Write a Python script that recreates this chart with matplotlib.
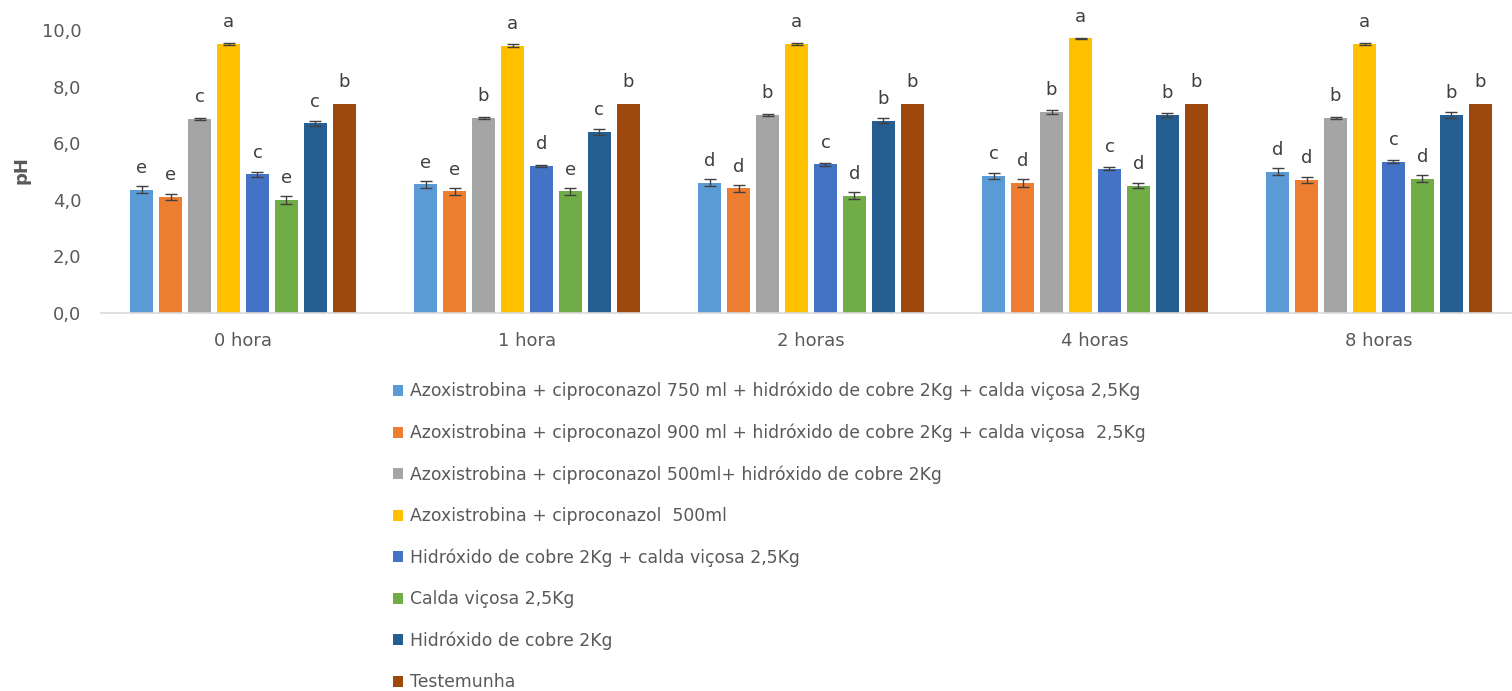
import matplotlib
matplotlib.use('Agg')
import matplotlib.pyplot as plt
import numpy as np

# tempos de avaliação
horarios = ['0 hora', '1 hora', '2 horas', '4 horas', '8 horas']

tratamentos = [
    'Azoxistrobina + ciproconazol 750 ml + hidróxido de cobre 2Kg + calda viçosa 2,5Kg',
    'Azoxistrobina + ciproconazol 900 ml + hidróxido de cobre 2Kg + calda viçosa  2,5Kg',
    'Azoxistrobina + ciproconazol 500ml+ hidróxido de cobre 2Kg',
    'Azoxistrobina + ciproconazol  500ml',
    'Hidróxido de cobre 2Kg + calda viçosa 2,5Kg',
    'Calda viçosa 2,5Kg',
    'Hidróxido de cobre 2Kg',
    'Testemunha',
]

cores = ['#5B9BD5', '#ED7D31', '#A5A5A5', '#FFC000',
         '#4472C4', '#70AD47', '#255E91', '#9E480E']

# pH médio por tratamento (linhas) e tempo (colunas)
ph_medio = [
    [4.35, 4.55, 4.60, 4.85, 5.00],
    [4.10, 4.30, 4.40, 4.60, 4.70],
    [6.85, 6.90, 7.00, 7.10, 6.90],
    [9.50, 9.45, 9.50, 9.70, 9.50],
    [4.90, 5.20, 5.25, 5.10, 5.35],
    [4.00, 4.30, 4.15, 4.50, 4.75],
    [6.70, 6.40, 6.80, 7.00, 7.00],
    [7.40, 7.40, 7.40, 7.40, 7.40],
]

# erro padrão
erro = [
    [0.12, 0.12, 0.12, 0.10, 0.12],
    [0.12, 0.12, 0.12, 0.14, 0.12],
    [0.03, 0.03, 0.03, 0.06, 0.03],
    [0.03, 0.04, 0.03, 0.03, 0.03],
    [0.08, 0.04, 0.04, 0.05, 0.05],
    [0.14, 0.12, 0.12, 0.10, 0.12],
    [0.08, 0.10, 0.10, 0.08, 0.10],
    [0.00, 0.00, 0.00, 0.00, 0.00],
]

# letras do teste de médias
letras = [
    ['e', 'e', 'd', 'c', 'd'],
    ['e', 'e', 'd', 'd', 'd'],
    ['c', 'b', 'b', 'b', 'b'],
    ['a', 'a', 'a', 'a', 'a'],
    ['c', 'd', 'c', 'c', 'c'],
    ['e', 'e', 'd', 'd', 'd'],
    ['c', 'c', 'b', 'b', 'b'],
    ['b', 'b', 'b', 'b', 'b'],
]

W, H = 1512, 691
fig = plt.figure(figsize=(W / 100, H / 100), dpi=100)
ax = fig.add_axes([101 / W, (H - 313) / H, 1420 / W, 283 / H])

x = np.arange(len(horarios))
passo = 0.102
largura = 0.081

for i in range(len(tratamentos)):
    pos = x + (i - 3.5) * passo
    ax.bar(pos, ph_medio[i], largura, color=cores[i], label=tratamentos[i], zorder=2)
    if max(erro[i]) > 0:
        ax.errorbar(pos, ph_medio[i], yerr=erro[i], fmt='none', ecolor='#404040',
                    elinewidth=1, capsize=4, capthick=1, zorder=3)
    for j in range(len(horarios)):
        ax.annotate(letras[i][j], (pos[j], ph_medio[i][j]), xytext=(0, 12),
                    textcoords='offset points', ha='center', va='baseline',
                    fontsize=13, color='#404040')

ax.set_xlim(-0.5, len(horarios) - 0.5)
ax.set_ylim(0, 10)
ax.set_yticks(np.arange(0, 10.1, 2))
ax.set_yticklabels([('%.1f' % v).replace('.', ',') for v in np.arange(0, 10.1, 2)])
ax.set_xticks(x)
ax.set_xticklabels(horarios)
ax.tick_params(axis='both', length=0, labelsize=13, labelcolor='#595959')
ax.tick_params(axis='y', pad=14)
ax.tick_params(axis='x', pad=14)

for lado in ['top', 'right', 'left']:
    ax.spines[lado].set_visible(False)
ax.spines['bottom'].set_color('#D9D9D9')
ax.spines['bottom'].set_linewidth(1.2)

fig.text(22 / W, 1 - 170 / H, 'pH', rotation=90, ha='center', va='center',
         fontsize=13, fontweight='bold', color='#595959')

fig.legend(loc='upper left', bbox_to_anchor=(393 / W, 1 - 382 / H), ncol=1,
           frameon=False, borderpad=0, borderaxespad=0,
           handlelength=0.6, handleheight=0.6, handletextpad=0.4,
           labelspacing=1.35, labelcolor='#595959',
           prop={'size': 12.4})

fig.savefig('out.png', dpi=100)
